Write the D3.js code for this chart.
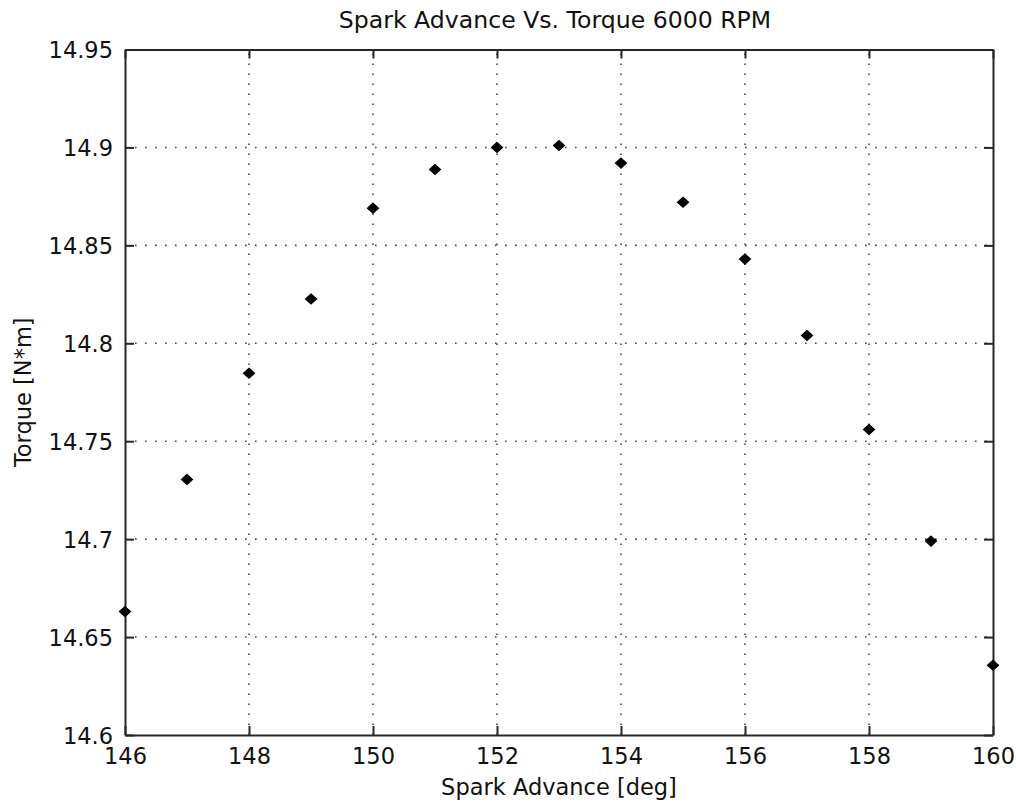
<!DOCTYPE html>
<html>
<head>
<meta charset="utf-8">
<script src="https://cdn.jsdelivr.net/npm/d3@7"></script>
<style>
  html, body { margin: 0; padding: 0; background: #fff; }
  svg text { font-family: "DejaVu Sans", sans-serif; font-size: 22.5px; fill: #111; }
</style>
</head>
<body>
<div id="chart"></div>
<script>
const sparkAdvance = [146, 147, 148, 149, 150, 151, 152, 153, 154, 155, 156, 157, 158, 159, 160];
const torque = [14.663, 14.7305, 14.7847, 14.8226, 14.869, 14.8887, 14.900, 14.901, 14.892, 14.872, 14.843, 14.804, 14.756, 14.699, 14.6356];
const xTicks = [146, 148, 150, 152, 154, 156, 158, 160];
const yTicks = [14.6, 14.65, 14.7, 14.75, 14.8, 14.85, 14.9, 14.95];
const titleText = 'Spark Advance Vs. Torque 6000 RPM';
const xLabel = 'Spark Advance [deg]';
const yLabel = 'Torque [N*m]';

const width = 1016, height = 808;
const margin = { top: 49.5, right: 23, bottom: 73, left: 125 };

const svg = d3.select('#chart').append('svg')
  .attr('width', width)
  .attr('height', height);

const x = d3.scaleLinear().domain([146, 160]).range([margin.left, width - margin.right]);
const y = d3.scaleLinear().domain([14.6, 14.95]).range([height - margin.bottom, margin.top]);

const axColor = '#262626';
const tickLen = 9;

// grid
const grid = svg.append('g').attr('stroke', '#444').attr('stroke-width', 1.6)
  .attr('stroke-dasharray', '1.6 8.4');
grid.selectAll('.vg').data(xTicks.slice(1, -1)).enter().append('line')
  .attr('x1', d => x(d)).attr('x2', d => x(d))
  .attr('y1', y(14.6)).attr('y2', y(14.95));
grid.selectAll('.hg').data(yTicks.slice(1, -1)).enter().append('line')
  .attr('x1', x(146)).attr('x2', x(160))
  .attr('y1', d => y(d)).attr('y2', d => y(d));

// axes (box with inward ticks)
const xAxisB = d3.axisBottom(x).tickValues(xTicks).tickSizeInner(-tickLen).tickSizeOuter(0).tickFormat(d3.format('d'));
const xAxisT = d3.axisTop(x).tickValues(xTicks).tickSizeInner(-tickLen).tickSizeOuter(0).tickFormat('');
const yAxisL = d3.axisLeft(y).tickValues(yTicks).tickSizeInner(-tickLen).tickSizeOuter(0).tickFormat(d => String(+d.toFixed(2)));
const yAxisR = d3.axisRight(y).tickValues(yTicks).tickSizeInner(-tickLen).tickSizeOuter(0).tickFormat('');

function styleAxis(g) {
  g.attr('font-family', null).attr('font-size', null);
  g.select('.domain').attr('stroke', axColor).attr('stroke-width', 2);
  g.selectAll('.tick line').attr('stroke', axColor).attr('stroke-width', 2);
  g.selectAll('.tick text').attr('fill', '#111');
}

svg.append('g').attr('transform', `translate(0,${y(14.6)})`).call(xAxisB).call(styleAxis)
  .selectAll('.tick text').attr('dy', '0.71em').attr('y', 13);
svg.append('g').attr('transform', `translate(0,${y(14.95)})`).call(xAxisT).call(styleAxis);
svg.append('g').attr('transform', `translate(${x(146)},0)`).call(yAxisL).call(styleAxis)
  .selectAll('.tick text').attr('dy', '0.36em').attr('x', -12);
svg.append('g').attr('transform', `translate(${x(160)},0)`).call(yAxisR).call(styleAxis);

// markers
const diamond = 'M0,-5L5.5,0L0,5L-5.5,0Z';
svg.append('g').selectAll('path.pt')
  .data(sparkAdvance.map((s, i) => ({ s, t: torque[i] })))
  .enter().append('path')
  .attr('class', 'pt')
  .attr('d', diamond)
  .attr('transform', d => `translate(${x(d.s)},${y(d.t)})`)
  .attr('fill', '#000')
  .attr('stroke', '#000')
  .attr('stroke-width', 1.2);

// labels
svg.append('text')
  .attr('x', (x(146) + x(160)) / 2 - 4).attr('y', 28)
  .attr('text-anchor', 'middle')
  .style('font-size', '23.6px')
  .text(titleText);

svg.append('text')
  .attr('x', (x(146) + x(160)) / 2).attr('y', 795)
  .attr('text-anchor', 'middle')
  .text(xLabel);

svg.append('text')
  .attr('transform', `translate(31,${(y(14.6) + y(14.95)) / 2}) rotate(-90)`)
  .attr('text-anchor', 'middle')
  .text(yLabel);
</script>
</body>
</html>
